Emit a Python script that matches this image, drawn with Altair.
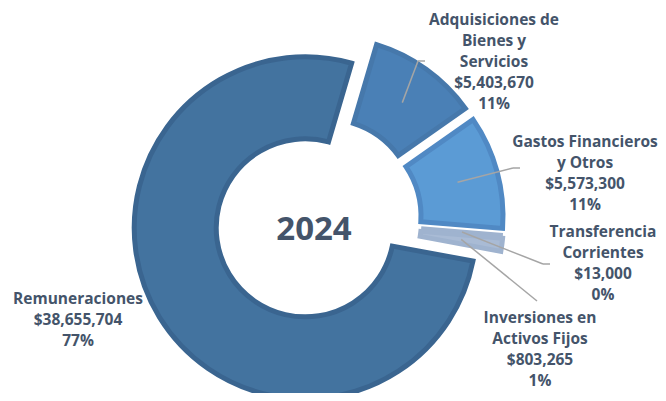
import math
import altair as alt
import pandas as pd

# ---------------- data ----------------
categories = [
    "Adquisiciones de Bienes y Servicios",
    "Gastos Financieros y Otros",
    "Transferencia Corrientes",
    "Inversiones en Activos Fijos",
    "Remuneraciones",
]
label_names = [
    ["Adquisiciones de", "Bienes y", "Servicios"],
    ["Gastos Financieros", "y Otros"],
    ["Transferencia", "Corrientes"],
    ["Inversiones en", "Activos Fijos"],
    ["Remuneraciones"],
]
values = [5403670, 5573300, 13000, 803265, 38655704]
pct_labels = ["11%", "11%", "0%", "1%", "77%"]
year_label = "2024"

# ---------------- style / layout ----------------
fill_colors = ["#4A80B6", "#5B9BD5", "#A9BBD5", "#A9BBD5", "#43739F"]
stroke_colors = ["#4678AB", "#5089C4", "#9FB3CF", "#9FB3CF", "#3A6590"]
explode = [14.5, 14.5, 14.5, 14.5, 15]
W, H = 650, 385
CX, CY = 310, 212
R_OUT, R_IN = 171, 89
START = math.radians(16.4)
year_pos = (306, 222)
# first-line centres of label blocks and leader elbows/ends (plot px)
label_pos = [(486, 12), (577, 134), (595, 224), (532, 310), (70, 291)]
leader_elbow = [(410, 53), (505, 160), (535, 256), (529, 293), None]
leader_end = [(417, 53), (512, 160), (542, 256), (529, 293), None]

total = sum(values)
rows, rules, texts = [], [], []
acc = 0.0
for i, (cat, v) in enumerate(zip(categories, values)):
    t0 = acc / total
    acc += v
    t1 = acc / total
    mid = START + 2 * math.pi * (t0 + t1) / 2
    cx = CX + explode[i] * math.sin(mid)
    cy = CY - explode[i] * math.cos(mid)
    rows.append(dict(cat=cat, t0=t0, t1=t1, cx=cx, cy=cy))
    rm = (R_OUT + R_IN) / 2
    sx = cx + rm * math.sin(mid)
    sy = cy - rm * math.cos(mid)
    if leader_elbow[i] is not None:
        ex, ey = leader_elbow[i]
        fx, fy = leader_end[i]
        rules.append(dict(x=sx, y=sy, x2=ex, y2=ey))
        rules.append(dict(x=ex, y=ey, x2=fx, y2=fy))
    txt = "\n".join(label_names[i] + [f"${v:,}", pct_labels[i]])
    texts.append(dict(x=label_pos[i][0], y=label_pos[i][1], label=txt))

df = pd.DataFrame(rows)
df_rules = pd.DataFrame(rules)
df_text = pd.DataFrame(texts)
df_year = pd.DataFrame([dict(x=year_pos[0], y=year_pos[1], label=year_label)])

arcs = alt.Chart(df).mark_arc(
    innerRadius=R_IN, outerRadius=R_OUT, strokeWidth=5, padAngle=0.02
).encode(
    x=alt.X("cx:Q", scale=None, axis=None),
    y=alt.Y("cy:Q", scale=None, axis=None),
    theta=alt.Theta("t0:Q", scale=alt.Scale(domain=[0, 1], range=[START, START + 2 * math.pi])),
    theta2="t1:Q",
    color=alt.Color("cat:N", scale=alt.Scale(domain=categories, range=fill_colors), legend=None),
    stroke=alt.Stroke("cat:N", scale=alt.Scale(domain=categories, range=stroke_colors), legend=None),
)

leaders = alt.Chart(df_rules).mark_rule(color="#A5A5A5", strokeWidth=1.5).encode(
    x=alt.X("x:Q", scale=None, axis=None),
    y=alt.Y("y:Q", scale=None, axis=None),
    x2="x2:Q",
    y2="y2:Q",
)

labels = alt.Chart(df_text).mark_text(
    align="center", baseline="middle", lineBreak="\n", lineHeight=21,
    font="Open Sans", fontSize=15.5, fontWeight="bold", color="#44546A",
).encode(
    x=alt.X("x:Q", scale=None, axis=None),
    y=alt.Y("y:Q", scale=None, axis=None),
    text="label:N",
)

year = alt.Chart(df_year).mark_text(
    align="center", baseline="middle", font="Open Sans", fontSize=33,
    fontWeight="bold", color="#44546A",
).encode(
    x=alt.X("x:Q", scale=None, axis=None),
    y=alt.Y("y:Q", scale=None, axis=None),
    text="label:N",
)

chart = alt.layer(arcs, leaders, labels, year).properties(
    width=W, height=H, padding=0, autosize=alt.AutoSizeParams(type="none")
).configure_view(strokeWidth=0)

chart.save("out.html", embed_options={"renderer": "svg", "actions": False})
